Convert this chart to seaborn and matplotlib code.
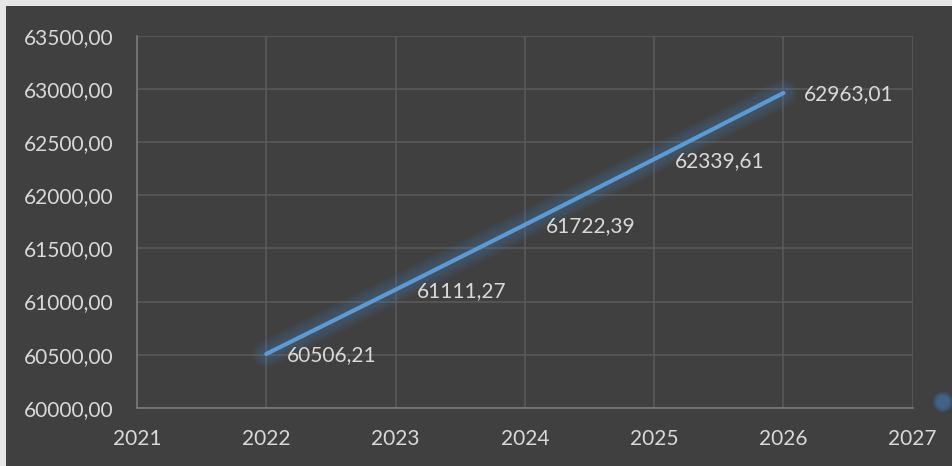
import matplotlib
matplotlib.use("Agg")
import matplotlib.pyplot as plt
from matplotlib.patches import Rectangle, Ellipse
from matplotlib.ticker import FuncFormatter, MultipleLocator
import seaborn as sns
import pandas as pd

years = [2022, 2023, 2024, 2025, 2026]
values = [60506.21, 61111.27, 61722.39, 62339.61, 62963.01]
value_labels = ["60506,21", "61111,27", "61722,39", "62339,61", "62963,01"]

BG = "#404040"
GRID = "#595959"
TEXT = "#d9d9d9"
LINE = "#5b9bd5"
GLOW = "#4a7fb5"

sns.set_theme(style="dark")
plt.rcParams["font.family"] = ["Lato", "DejaVu Sans"]

df = pd.DataFrame({"year": years, "value": values})

fig = plt.figure(figsize=(9.52, 4.66), dpi=100, facecolor=BG)
ax = fig.add_axes([137 / 952, 1 - 407.7 / 466, (912.7 - 137) / 952, (407.7 - 36) / 466])
ax.set_facecolor(BG)

# soft glow under the series line
for lw in [20, 17, 14, 11, 8]:
    ax.plot(df["year"], df["value"], color=GLOW, lw=lw, alpha=0.07,
            solid_capstyle="round", zorder=2)
sns.lineplot(data=df, x="year", y="value", color=LINE, linewidth=3.0, ax=ax,
             zorder=3)

for x, y, s in zip(years, values, value_labels):
    ax.annotate(s, (x, y), xytext=(15, -1), textcoords="offset points",
                ha="left", va="center", color=TEXT, fontsize=15, zorder=4)

ax.set_xlim(2021, 2027)
ax.set_ylim(60000, 63500)
ax.xaxis.set_major_locator(MultipleLocator(1))
ax.yaxis.set_major_locator(MultipleLocator(500))
ax.xaxis.set_major_formatter(FuncFormatter(lambda v, p: f"{int(round(v))}"))
ax.yaxis.set_major_formatter(
    FuncFormatter(lambda v, p: f"{v:.2f}".replace(".", ",")))
ax.tick_params(axis="both", colors=TEXT, labelsize=15, length=0)
ax.tick_params(axis="y", pad=17)
ax.tick_params(axis="x", pad=15)
ax.set_xlabel("")
ax.set_ylabel("")

ax.grid(True, color=GRID, linewidth=1.2)
for side in ["top", "right"]:
    ax.spines[side].set_visible(False)
for side in ["left", "bottom"]:
    ax.spines[side].set_color("#7a7a7a")
    ax.spines[side].set_linewidth(1.2)

# light frame strips along the top and left edge
fig.patches.append(Rectangle((0, 1 - 6 / 466), 1, 6 / 466, transform=fig.transFigure,
                             facecolor="#e6e6e6", edgecolor="none", zorder=0))
fig.patches.append(Rectangle((0, 0), 6 / 952, 1, transform=fig.transFigure,
                             facecolor="#e6e6e6", edgecolor="none", zorder=0))
for r, a in [(20, 0.35), (16, 0.5), (12, 0.6)]:
    fig.patches.append(Ellipse((943 / 952, 1 - 402 / 466), r / 952, r / 466,
                               transform=fig.transFigure, facecolor="#3f6a95",
                               edgecolor="none", alpha=a, zorder=0))

fig.savefig("out.png", dpi=100, facecolor=BG)
